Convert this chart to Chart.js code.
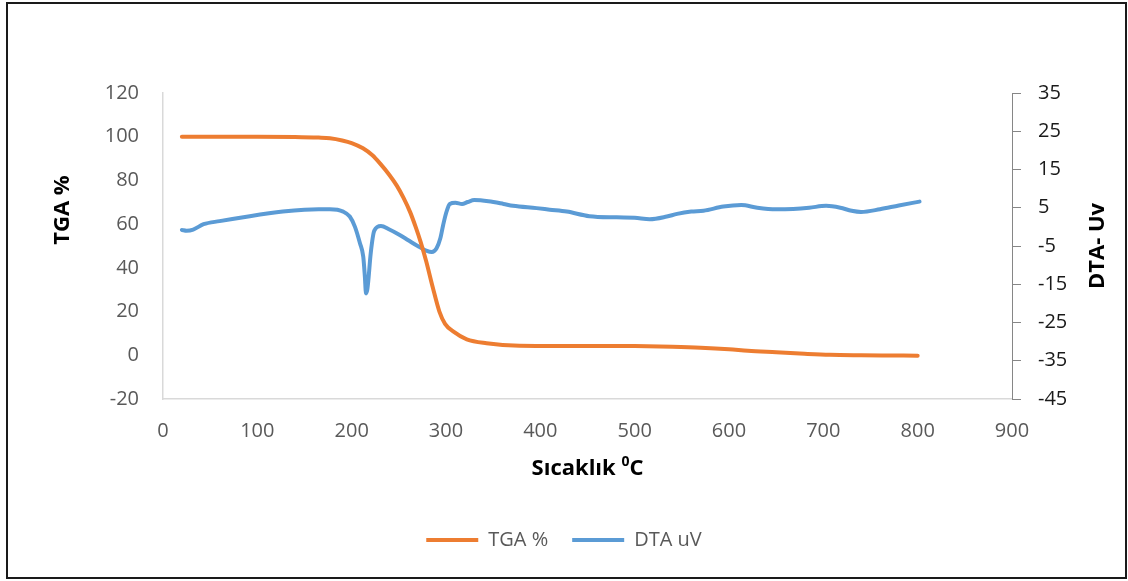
<!DOCTYPE html>
<html>
<head>
<meta charset="utf-8">
<title>TGA / DTA</title>
<script src="https://cdn.jsdelivr.net/npm/chart.js@4.4.1/dist/chart.umd.min.js"></script>
<style>
  html, body { margin: 0; padding: 0; background: #ffffff; }
  #wrap { width: 1128px; height: 581px; position: relative; }
</style>
</head>
<body>
<div id="wrap"><canvas id="chart" width="1128" height="581"></canvas></div>
<script>
// Thermogravimetric curve: temperature (°C) and remaining mass (%)
const tgaTemp = [20, 60, 100, 140, 165, 177, 190, 200, 212, 222, 230, 240, 248, 255, 262, 268, 273, 279, 286, 293, 299, 308, 322, 343, 378, 420, 460, 500, 540, 570, 600, 620, 650, 680, 707, 740, 770, 800];
const tgaPercent = [100, 100, 100, 99.9, 99.6, 99.3, 98.3, 97.1, 94.7, 91.5, 87.8, 82.5, 77.5, 72, 65.5, 58.5, 52, 43, 31, 20, 14.4, 10.8, 7.3, 5.5, 4.4, 4.3, 4.3, 4.2, 3.9, 3.5, 2.8, 2.1, 1.4, 0.7, 0.2, 0, -0.1, -0.2];

// Differential thermal curve: temperature (°C) and signal (uV)
const dtaTemp = [20, 25, 32, 43, 60, 92, 127, 150, 165, 177, 191, 198, 203.5, 208.8, 212.3, 214, 215.2, 216.5, 217.7, 220.2, 224, 231, 240, 250, 260, 270, 279, 285, 290, 294, 297, 300, 304, 310, 317, 323, 330, 345, 361, 371, 396, 410, 428, 452, 481, 500, 516, 534, 545, 560, 573, 594, 613, 630, 650, 668, 685, 703, 718, 730, 740, 760, 780, 802];
const dtaMicroVolt = [-0.8, -1, -0.7, 0.7, 1.5, 2.8, 4.0, 4.5, 4.6, 4.6, 4.0, 2.7, 0, -4.3, -7.8, -13, -17.4, -16.5, -13.9, -6.9, -1.0, 0.2, -0.7, -2.0, -3.5, -5.0, -6.2, -6.6, -5.6, -3, 0.5, 3.5, 6.0, 6.3, 6.0, 6.5, 7.0, 6.7, 6.0, 5.5, 4.9, 4.5, 4.0, 2.8, 2.5, 2.4, 2.0, 2.7, 3.4, 4.0, 4.2, 5.3, 5.7, 5.0, 4.6, 4.7, 5.0, 5.5, 5.0, 4.2, 3.9, 4.6, 5.6, 6.6];

// Axis tick labels
const tempTicks = [0, 100, 200, 300, 400, 500, 600, 700, 800, 900];
const tgaTicks = [-20, 0, 20, 40, 60, 80, 100, 120];
const dtaTicks = [-45, -35, -25, -15, -5, 5, 15, 25, 35];

// Series names and axis titles
const seriesNames = ['TGA %', 'DTA uV'];
const xTitleMain = 'Sıcaklık ';
const xTitleSup = '0';
const xTitleTail = 'C';
const leftTitle = 'TGA %';
const rightTitle = 'DTA- Uv';

const FONT = "'Open Sans', 'Liberation Sans', sans-serif";

const toPoints = (xs, ys) => xs.map((x, i) => ({ x: x, y: ys[i] }));
const setTicks = (values) => (scale) => { scale.ticks = values.map(v => ({ value: v })); };

// Frame, background and axis titles
const decorations = {
  id: 'decorations',
  beforeDraw(chart) {
    const ctx = chart.ctx;
    ctx.save();
    ctx.fillStyle = '#ffffff';
    ctx.fillRect(0, 0, chart.width, chart.height);
    ctx.restore();
  },
  afterDraw(chart) {
    const ctx = chart.ctx;
    const area = chart.chartArea;
    ctx.save();
    ctx.fillStyle = '#000000';
    ctx.textAlign = 'center';
    ctx.textBaseline = 'middle';
    ctx.font = "bold 22px " + FONT;

    // left axis title
    ctx.save();
    ctx.translate(chart.scales.y.left + 63, area.top + 117);
    ctx.rotate(-Math.PI / 2);
    ctx.fillText(leftTitle, 0, 0);
    ctx.restore();

    // right axis title
    ctx.save();
    ctx.translate(chart.scales.y2.left + 86, (area.top + area.bottom) / 2);
    ctx.rotate(-Math.PI / 2);
    ctx.fillText(rightTitle, 0, 0);
    ctx.restore();

    // bottom axis title with superscript
    const bigFont = "bold 22px " + FONT;
    const smallFont = "bold 14px " + FONT;
    ctx.font = bigFont;
    const w1 = ctx.measureText(xTitleMain).width;
    const w3 = ctx.measureText(xTitleTail).width;
    ctx.font = smallFont;
    const w2 = ctx.measureText(xTitleSup).width;
    const cx = (area.left + area.right) / 2;
    const cy = area.bottom + 70;
    let x = cx - (w1 + w2 + w3) / 2;
    ctx.textAlign = 'left';
    ctx.font = bigFont;
    ctx.fillText(xTitleMain, x, cy);
    x += w1;
    ctx.font = smallFont;
    ctx.fillText(xTitleSup, x, cy - 7);
    x += w2;
    ctx.font = bigFont;
    ctx.fillText(xTitleTail, x, cy);

    // outer frame
    ctx.strokeStyle = '#1a1a1a';
    ctx.lineWidth = 2;
    ctx.strokeRect(7, 3, chart.width - 9, chart.height - 6);
    ctx.restore();
  }
};

new Chart(document.getElementById('chart'), {
  type: 'line',
  data: {
    datasets: [
      {
        label: seriesNames[0],
        data: toPoints(tgaTemp, tgaPercent),
        yAxisID: 'y',
        borderColor: '#ED7D31',
        backgroundColor: '#ED7D31',
        borderWidth: 4,
        borderCapStyle: 'round',
        borderJoinStyle: 'round',
        pointRadius: 0,
        cubicInterpolationMode: 'monotone',
        fill: false
      },
      {
        label: seriesNames[1],
        data: toPoints(dtaTemp, dtaMicroVolt),
        yAxisID: 'y2',
        borderColor: '#5B9BD5',
        backgroundColor: '#5B9BD5',
        borderWidth: 4,
        borderCapStyle: 'round',
        borderJoinStyle: 'round',
        pointRadius: 0,
        cubicInterpolationMode: 'monotone',
        fill: false
      }
    ]
  },
  options: {
    responsive: false,
    animation: false,
    devicePixelRatio: 1,
    layout: { padding: { top: 93, bottom: 21, left: 0, right: 0 } },
    plugins: {
      title: { display: false },
      tooltip: { enabled: false },
      legend: {
        position: 'bottom',
        labels: {
          usePointStyle: true,
          pointStyle: 'line',
          pointStyleWidth: 52,
          padding: 24,
          color: '#595959',
          font: { family: FONT, size: 20 }
        }
      }
    },
    scales: {
      x: {
        type: 'linear',
        position: 'bottom',
        min: 0,
        max: 900,
        afterBuildTicks: setTicks(tempTicks),
        afterFit: (s) => { s.height = 107; },
        grid: { display: false, drawTicks: false },
        border: { display: true, color: '#D9D9D9', width: 1.5 },
        ticks: { padding: 20, color: '#595959', font: { family: FONT, size: 20 } }
      },
      y: {
        type: 'linear',
        position: 'left',
        min: -20,
        max: 120,
        afterBuildTicks: setTicks(tgaTicks),
        afterFit: (s) => { s.width = 163; },
        grid: { display: false, drawTicks: false },
        border: { display: true, color: '#D9D9D9', width: 1.5 },
        ticks: { padding: 24, color: '#595959', font: { family: FONT, size: 20 } }
      },
      y2: {
        type: 'linear',
        position: 'right',
        min: -45,
        max: 35,
        afterBuildTicks: setTicks(dtaTicks),
        afterFit: (s) => { s.width = 116; },
        grid: { display: true, drawOnChartArea: false, drawTicks: true, tickLength: 9, color: '#868686', lineWidth: 1 },
        border: { display: true, color: '#868686', width: 1 },
        ticks: { padding: 17, color: '#1a1a1a', font: { family: FONT, size: 20 } }
      }
    }
  },
  plugins: [decorations]
});
</script>
</body>
</html>
